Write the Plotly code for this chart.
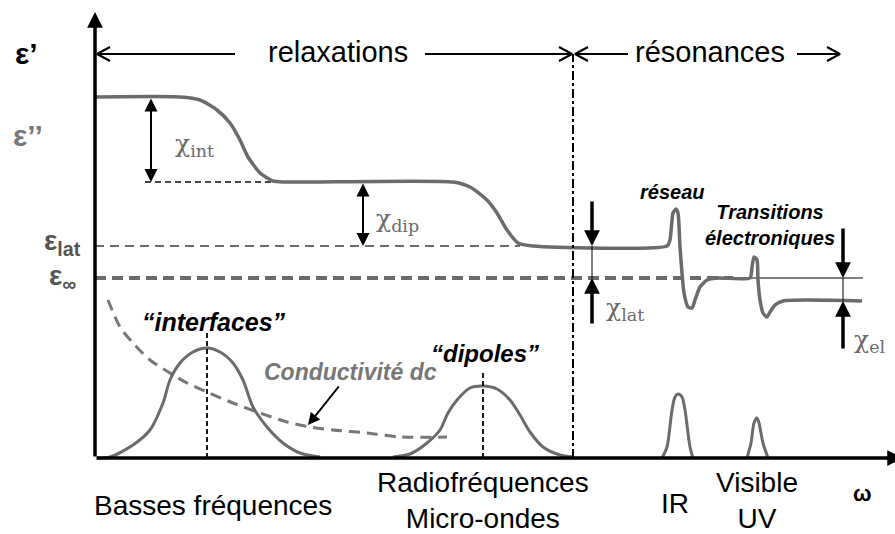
import plotly.graph_objects as go

# Diagram coordinates: x = position along the frequency axis, y = permittivity level
# (origin at the axis corner).

# Real part eps' : two relaxation steps then two resonances
eps1_x = [0, 85, 105, 122, 135, 145, 153, 165, 178, 190, 358, 375, 392, 402, 412, 423, 438,
          572, 575, 578, 581, 583, 585, 587, 589, 593, 597, 600, 605, 612, 622, 655,
          657, 659, 662, 663, 665, 668, 672, 675, 680, 688, 767]
eps1_y = [361, 361, 358, 348, 335, 318, 301, 285, 277, 276, 276, 271, 258, 245, 228, 215, 212,
          212, 218, 245, 249, 245, 211, 185, 165, 151, 150, 158, 171, 178, 180, 180,
          191, 201, 198, 178, 158, 145, 141, 146, 153, 157, 157]

# Levels
eps_static = 361
eps_after_int = 276
eps_lat = 212
eps_inf = 180
eps_el = 157

# Imaginary part eps'' : loss peaks
int_x = [2, 15, 38, 55, 68, 75, 85, 98, 112, 125, 138, 148, 158, 172, 188, 205, 225]
int_y = [0, 1, 13, 28, 55, 78, 95, 106, 110, 106, 95, 78, 51, 31, 15, 5, 1]
dip_x = [298, 315, 332, 345, 353, 362, 375, 388, 402, 415, 425, 435, 448, 465, 478]
dip_y = [1, 4, 15, 28, 45, 58, 70, 72, 69, 58, 43, 26, 11, 3, 1]
ir_x = [567, 572, 577, 580, 583, 587, 590, 595, 598]
ir_y = [0, 11, 48, 61, 64, 61, 48, 11, 0]
vis_x = [652, 656, 659, 662, 664, 668, 673]
vis_y = [0, 15, 35, 40, 35, 15, 0]

# dc conductivity contribution
dc_x = [13, 25, 38, 55, 75, 92, 112, 138, 165, 192, 215, 238, 272, 305, 352]
dc_y = [158, 131, 115, 98, 85, 75, 66, 55, 45, 36, 31, 28, 25, 21, 21]

# Peak positions and heights of the markers
peak_x = [112, 388]
peak_marker_top = [128, 86]

# Regions
boundary_x = 478
band_y = 404

# Axis extent
x_min, x_max = -95, 800
y_min, y_max = -76, 458

GRAY = "#6b6b6b"
SANS = "Liberation Sans, Arial, sans-serif"
SERIF = "DejaVu Serif, Liberation Serif, serif"

fig = go.Figure()


def line(x, y, color=GRAY, width=3.5, dash="solid", shape="linear", smoothing=1.0):
    fig.add_trace(go.Scatter(x=x, y=y, mode="lines", hoverinfo="skip",
                             line=dict(color=color, width=width, dash=dash,
                                       shape=shape, smoothing=smoothing)))


# reference levels
line([50, 180], [eps_after_int] * 2, color="#444444", width=2, dash="6px,4px")
line([0, 425], [eps_lat] * 2, color=GRAY, width=2.2, dash="9px,6px")
line([0, 638], [eps_inf] * 2, color=GRAY, width=4, dash="11px,6px")
line([638, 768], [eps_inf] * 2, color="black", width=1)

# dc conductivity
line(dc_x, dc_y, color="#777777", width=3, dash="11px,7px", shape="spline", smoothing=0.8)

# eps' and eps''
line(eps1_x, eps1_y, shape="spline", smoothing=0.6)
for px_, py_ in [(int_x, int_y), (dip_x, dip_y), (ir_x, ir_y), (vis_x, vis_y)]:
    line(px_, py_, width=3, shape="spline", smoothing=0.8)

# peak markers
for xp, top in zip(peak_x, peak_marker_top):
    line([xp, xp], [0, top], color="black", width=1.8, dash="5px,3px")

# relaxation / resonance boundary
line([boundary_x, boundary_x], [0, band_y], color="black", width=2, dash="dashdot")

# band arrows with open heads
band_arrows = [(140, 2), (330, 477), (533, 480), (702, 745)]
for tail, tip in band_arrows:
    d = 1 if tip > tail else -1
    line([tail, tip], [band_y, band_y], color="black", width=2)
    line([tip - d * 13, tip, tip - d * 13], [band_y + 7, band_y, band_y - 7],
         color="black", width=2)

annotations = []


def arrow(x, y, ax, ay, width=2, size=1.0, both=False, head=2):
    annotations.append(dict(x=x, y=y, ax=ax, ay=ay, xref="x", yref="y", axref="x", ayref="y",
                            text="", showarrow=True, arrowhead=head, arrowsize=size,
                            arrowwidth=width, arrowcolor="black", standoff=0,
                            startstandoff=0, arrowside="end+start" if both else "end",
                            startarrowhead=head, startarrowsize=size))


# axes
arrow(0, 446, 0, 0, width=3.5, size=0.9)
arrow(808, 0, 0, 0, width=3.5, size=0.9)

# susceptibility arrows
arrow(56, eps_after_int, 56, eps_static, width=2, size=1.3, both=True)
arrow(268, eps_lat, 268, eps_after_int, width=2, size=1.3, both=True)
arrow(497, eps_lat, 497, 258, width=3.5, size=0.9)
arrow(497, eps_inf, 497, 133, width=3.5, size=0.9)
line([497, 497], [eps_lat, eps_inf], color="black", width=1)
arrow(748, eps_inf, 748, 231, width=3.5, size=0.9)
arrow(748, eps_el, 748, 108, width=3.5, size=0.9)
line([748, 748], [eps_inf, eps_el], color="black", width=1)

# conductivity pointer
arrow(213, 33, 245, 73, width=2, size=1.2)


def text(x, y, s, size, color="black", family=SANS, weight="normal", style="normal"):
    annotations.append(dict(x=x, y=y, xref="x", yref="y", text=s, showarrow=False,
                            xanchor="center", yanchor="middle",
                            font=dict(size=size, color=color, family=family,
                                      weight=weight, style=style)))


text(-69, 405, "ε’", 30, color="black", weight="bold")
text(-67, 323, "ε’’", 30, color="#777777", weight="bold")
text(-33, 216, "ε<sub>lat</sub>", 28, color="#555555", weight="bold")
text(-33, 181, "ε<sub>∞</sub>", 28, color="#555555", weight="bold")

text(243, 406, "relaxations", 29)
text(615, 406, "résonances", 29)

text(99, 313, "χ<sub>int</sub>", 25, color=GRAY, family=SERIF)
text(302, 238, "χ<sub>dip</sub>", 25, color=GRAY, family=SERIF)
text(530, 149, "χ<sub>lat</sub>", 25, color=GRAY, family=SERIF)
text(775, 117, "χ<sub>el</sub>", 25, color=GRAY, family=SERIF)

text(577, 266, "réseau", 20, weight="bold", style="italic")
text(675, 233, "Transitions<br>électroniques", 20, weight="bold", style="italic")
text(119, 136, "“interfaces”", 25, weight="bold", style="italic")
text(390, 105, "“dipoles”", 24, weight="bold", style="italic")
text(255, 86, "Conductivité dc", 23, color="#777777", weight="bold", style="italic")

text(118, -47, "Basses fréquences", 28)
text(388, -42, "Radiofréquences<br>Micro-ondes", 28)
text(580, -45, "IR", 28)
text(662, -42, "Visible<br>UV", 28)
text(767, -35, "ω", 22, weight="bold")

fig.update_layout(
    width=895, height=534,
    margin=dict(l=0, r=0, t=0, b=0),
    paper_bgcolor="white", plot_bgcolor="white",
    showlegend=False,
    xaxis=dict(range=[x_min, x_max], visible=False, fixedrange=True),
    yaxis=dict(range=[y_min, y_max], visible=False, fixedrange=True),
    annotations=annotations,
)

fig.write_html("out.html")
